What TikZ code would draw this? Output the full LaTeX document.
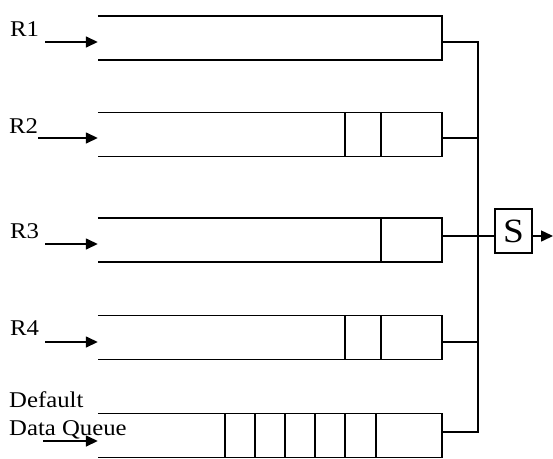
\documentclass[tikz,border=0pt]{standalone}
\usepackage{fontspec}
\setmainfont{Liberation Serif}[FakeStretch=1.1]
\usetikzlibrary{arrows.meta}
\begin{document}
\begin{tikzpicture}[x=1pt,y=-1pt,
  wire/.style={line width=1.5pt},
  feed/.style={line width=1.5pt,-{Triangle[length=12pt,width=11pt]}},
  qlabel/.style={inner sep=0pt,anchor=base west,align=left,font=\fontsize{22.5}{28}\selectfont},
  queue/.style={minimum width=344pt,minimum height=44pt,inner sep=0pt},
  server/.style={draw,line width=1.5pt,minimum width=37pt,minimum height=44pt,inner sep=0pt,font=\fontsize{34}{34}\selectfont}]
\useasboundingbox (0,0) rectangle (553,458);

% queue bodies (open on the left)
\node[queue] (q1) at (270,38) {};
\node[queue] (q2) at (270,134.5) {};
\node[queue] (q3) at (270,240) {};
\node[queue] (q4) at (270,337.5) {};
\node[queue] (q5) at (270,435.5) {};
\foreach \q in {q1,q2,q3,q4,q5}
  \draw[wire] (\q.north west) -- (\q.north east) -- (\q.south east) -- (\q.south west);

% queued packets
\foreach \x in {345,381} \draw[wire] (\x,0 |- q2.north) -- (\x,0 |- q2.south);
\foreach \x in {381} \draw[wire] (\x,0 |- q3.north) -- (\x,0 |- q3.south);
\foreach \x in {345,381} \draw[wire] (\x,0 |- q4.north) -- (\x,0 |- q4.south);
\foreach \x in {225,255,285,315,345,376} \draw[wire] (\x,0 |- q5.north) -- (\x,0 |- q5.south);

% labels (a two-line node sits on the baseline of its last line)
\node[qlabel] (l1) at (10,36) {R1};
\node[qlabel] (l2) at (9,133) {R2};
\node[qlabel] (l3) at (10,238) {R3};
\node[qlabel] (l4) at (10,335) {R4};
\node[qlabel] (l5) at (9,435) {Default\\Data Queue};

% incoming flows
\coordinate (in1) at (45,42);
\coordinate (in2) at (38,138);
\coordinate (in3) at (45,244);
\coordinate (in4) at (45,342);
\coordinate (in5) at (43,441);
\draw[feed] (in1) -- (in1 -| q1.west);
\draw[feed] (in2) -- (in2 -| q2.west);
\draw[feed] (in3) -- (in3 -| q3.west);
\draw[feed] (in4) -- (in4 -| q4.west);
\draw[feed] (in5) -- (in5 -| q5.west);

% scheduler
\node[server] (S) at (513.5,231) {S};
\coordinate (bus) at (478,0);
\coordinate (k1) at (q1.east |- 0,42);
\coordinate (k2) at (q2.east |- 0,138);
\coordinate (k3) at (q3.east |- 0,236);
\coordinate (k4) at (q4.east |- 0,342);
\coordinate (k5) at (q5.east |- 0,432);
\coordinate (out) at (553,236);
\draw[wire] (k1) -- (k1 -| bus) -- (k5 -| bus) -- (k5);
\draw[wire] (k2) -- (k2 -| bus);
\draw[wire] (k4) -- (k4 -| bus);
\draw[wire] (k3) -- (k3 -| S.west);
\draw[feed] (k3 -| S.east) -- (out);
\end{tikzpicture}
\end{document}
